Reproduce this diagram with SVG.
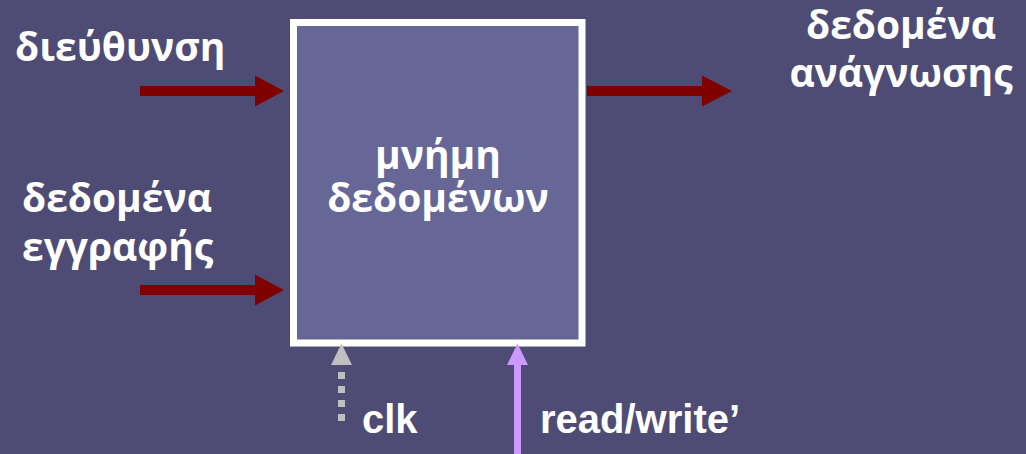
<svg xmlns="http://www.w3.org/2000/svg" width="1026" height="454" viewBox="0 0 1026 454">
<style>
.t{font-family:"Open Sans","DejaVu Sans",sans-serif;font-weight:bold;font-size:39px;fill:#ffffff}
.a{font-family:"Liberation Sans",Arial,sans-serif;font-weight:bold;font-size:40px;fill:#ffffff}
.red{fill:#800000}
</style>
<rect x="0" y="0" width="1026" height="454" fill="#4e4c75"/>
<g id="memory">
<rect x="293.5" y="22.5" width="288.5" height="320.5" fill="#676797" stroke="#ffffff" stroke-width="7"/>
<text class="t" x="438" y="169" text-anchor="middle">μνήμη</text>
<text class="t" x="438" y="212" text-anchor="middle">δεδομένων</text>
</g>
<g id="label-address"><text class="t" x="15" y="61">διεύθυνση</text></g>
<g id="label-writedata"><text class="t" x="22" y="212">δεδομένα</text><text class="t" x="22" y="261">εγγραφής</text></g>
<g id="label-readdata"><text class="t" x="901" y="39" text-anchor="middle">δεδομένα</text><text class="t" x="901" y="87" text-anchor="middle">ανάγνωσης</text></g>
<g id="label-clk"><text class="a" x="362" y="433">clk</text></g>
<g id="label-rw"><text class="a" x="540" y="433">read/write’</text></g>
<g id="connectors">
<rect class="red" x="140" y="86" width="116" height="10"/>
<polygon class="red" points="255,75.5 284,91 255,106.5"/>
<rect class="red" x="140" y="285" width="116" height="10"/>
<polygon class="red" points="255,274.5 284,290 255,305.5"/>
<rect class="red" x="587" y="86" width="116" height="10"/>
<polygon class="red" points="702,75.5 732,91 702,106.5"/>
<line x1="341.5" y1="372" x2="341.5" y2="425" stroke="#bfbfbf" stroke-width="7" stroke-dasharray="7 7"/>
<polygon points="331,365 341.5,343.5 352,365" fill="#bfbfbf"/>
<line x1="517.5" y1="364" x2="517.5" y2="454" stroke="#cc99ff" stroke-width="7"/>
<polygon points="507,365 517.5,343.5 528,365" fill="#cc99ff"/>
</g>
</svg>
